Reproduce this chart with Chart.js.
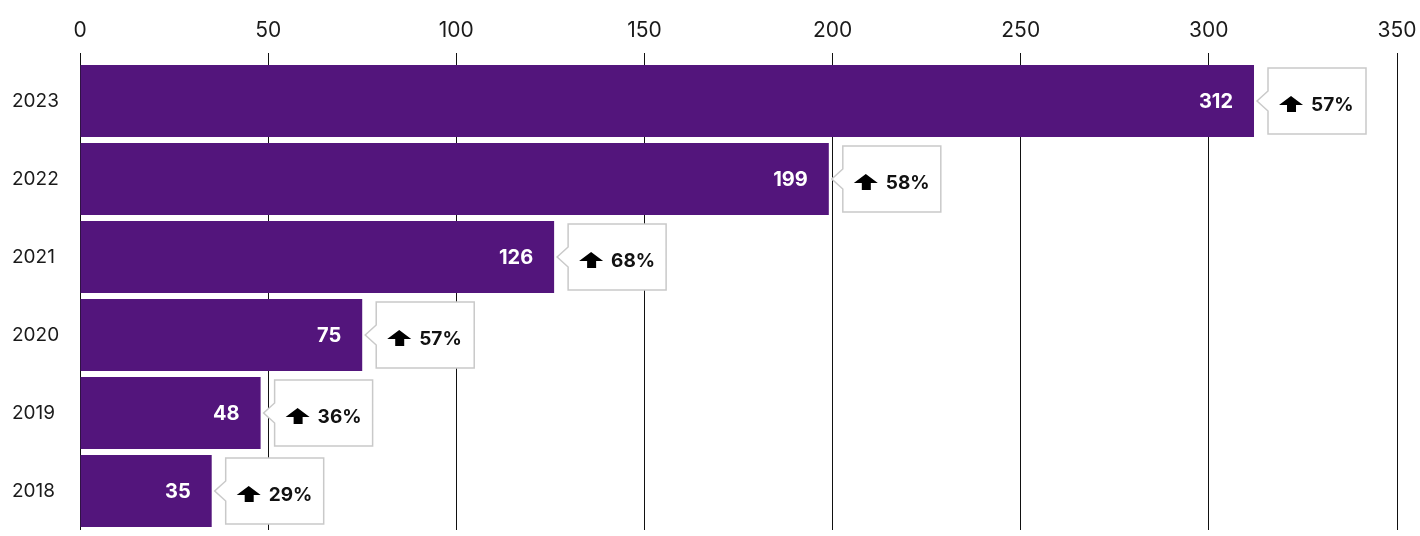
<!DOCTYPE html>
<html>
<head>
<meta charset="utf-8">
<script src="https://cdn.jsdelivr.net/npm/chart.js@4"></script>
<style>
  html, body { margin: 0; padding: 0; background: #fff; overflow: hidden; }
  canvas { display: block; }
</style>
</head>
<body>
<canvas id="growth-chart" width="1420" height="536"></canvas>
<script>
// Yearly totals, newest first, with year-over-year growth
const years = ['2023', '2022', '2021', '2020', '2019', '2018'];
const totals = [312, 199, 126, 75, 48, 35];
const growthPct = [57, 58, 68, 57, 36, 29];

const PURPLE = '#53157c';
const FONT = 'Inter, "Noto Sans", sans-serif';

// Draws the value inside each bar and a callout box with the growth arrow
const barCallouts = {
  id: 'barCallouts',
  afterDatasetsDraw(chart) {
    const ctx = chart.ctx;
    const meta = chart.getDatasetMeta(0);
    meta.data.forEach((bar, i) => {
      const x = bar.x;
      const y = bar.y;

      ctx.save();
      ctx.fillStyle = '#fff';
      ctx.font = '700 20px ' + FONT;
      ctx.textAlign = 'right';
      ctx.textBaseline = 'middle';
      ctx.fillText(String(totals[i]), x - 21, y + 1);

      // callout box with a small pointer toward the bar end
      const bx = x + 14, bw = 98, bh = 66;
      const top = y - bh / 2, bottom = y + bh / 2;
      ctx.beginPath();
      ctx.moveTo(bx, top);
      ctx.lineTo(bx + bw, top);
      ctx.lineTo(bx + bw, bottom);
      ctx.lineTo(bx, bottom);
      ctx.lineTo(bx, y + 10);
      ctx.lineTo(x + 3, y);
      ctx.lineTo(bx, y - 10);
      ctx.closePath();
      ctx.fillStyle = '#fff';
      ctx.fill();
      ctx.strokeStyle = '#c9c9c9';
      ctx.lineWidth = 1.5;
      ctx.stroke();

      // up arrow
      const ax = bx + 11, ay = y + 3;
      ctx.beginPath();
      ctx.moveTo(ax + 12, ay - 8);
      ctx.lineTo(ax + 24, ay + 1);
      ctx.lineTo(ax + 17, ay + 1);
      ctx.lineTo(ax + 17, ay + 8);
      ctx.lineTo(ax + 8, ay + 8);
      ctx.lineTo(ax + 8, ay + 1);
      ctx.lineTo(ax, ay + 1);
      ctx.closePath();
      ctx.fillStyle = '#000';
      ctx.fill();

      ctx.font = '700 19px ' + FONT;
      ctx.textAlign = 'left';
      ctx.fillStyle = '#111';
      ctx.fillText(growthPct[i] + '%', bx + 43, y + 4);
      ctx.restore();
    });
  }
};

new Chart(document.getElementById('growth-chart'), {
  type: 'bar',
  data: {
    labels: years,
    datasets: [{
      data: totals,
      backgroundColor: PURPLE,
      borderWidth: 0,
      barPercentage: 0.923,
      categoryPercentage: 1
    }]
  },
  plugins: [barCallouts],
  options: {
    indexAxis: 'y',
    responsive: false,
    animation: false,
    layout: { padding: { top: 0, right: 23, bottom: 6, left: 12 } },
    plugins: {
      legend: { display: false },
      tooltip: { enabled: false }
    },
    scales: {
      x: {
        position: 'top',
        min: 0,
        max: 350,
        border: { display: false },
        grid: {
          color: '#111',
          lineWidth: 1,
          drawTicks: true,
          tickLength: 9
        },
        ticks: {
          stepSize: 50,
          padding: 10,
          color: '#1a1a1a',
          font: { family: FONT, size: 21 }
        },
        afterFit(scale) {
          scale.height = 62;
          scale.paddingLeft = 0;
          scale.paddingRight = 0;
        }
      },
      y: {
        border: { display: false },
        grid: { display: false },
        ticks: {
          padding: 0,
          crossAlign: 'far',
          color: '#1a1a1a',
          font: { family: FONT, size: 19 }
        },
        afterFit(scale) {
          scale.width = 68;
          scale.paddingTop = 0;
          scale.paddingBottom = 0;
        }
      }
    }
  }
});
</script>
</body>
</html>
